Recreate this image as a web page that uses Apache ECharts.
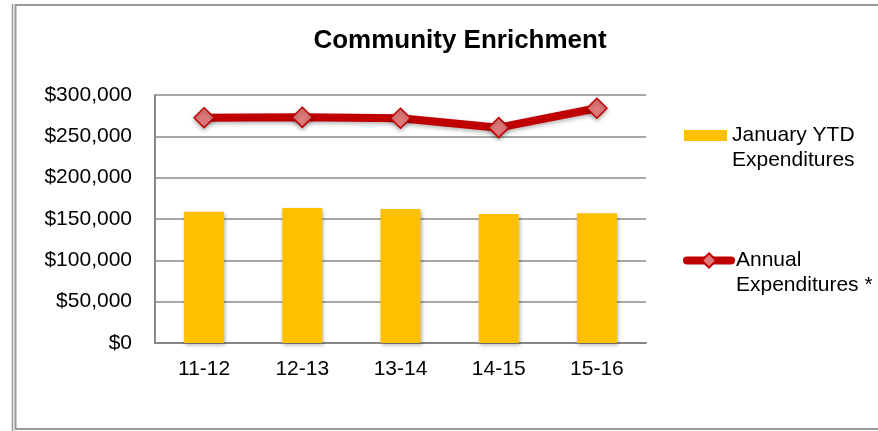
<!DOCTYPE html>
<html>
<head>
<meta charset="utf-8">
<script src="https://cdn.jsdelivr.net/npm/echarts@6/dist/echarts.min.js"></script>
<style>
html,body{margin:0;padding:0;background:#fff;}
#c{width:878px;height:431px;}
</style>
</head>
<body>
<div id="c"></div>
<script>
var categories = ['11-12', '12-13', '13-14', '14-15', '15-16'];
var ytdValues = [158800, 163300, 162100, 156000, 156900];
var annualValues = [272500, 273000, 271800, 260500, 284000];
var yTicks = [0, 50000, 100000, 150000, 200000, 250000, 300000];

var chart = echarts.init(document.getElementById('c'));
var font = 'Liberation Sans, Arial, sans-serif';
chart.setOption({
  animation: false,
  backgroundColor: '#fff',
  textStyle: {fontFamily: font},
  title: {
    text: 'Community Enrichment',
    left: 455, top: 23, textAlign: 'center',
    textStyle: {fontFamily: font, fontWeight: 'bold', fontSize: 26, color: '#000'}
  },
  graphic: [
    {type: 'line', shape: {x1: 12.5, y1: 4, x2: 12.5, y2: 431}, style: {stroke: '#999', lineWidth: 1.5}},
    {type: 'rect', shape: {x: 15.5, y: 5, width: 880, height: 424}, style: {fill: null, stroke: '#999', lineWidth: 2}}
  ],
  legend: [
    {
      data: [{name: 'January YTD Expenditures', icon: 'rect'}],
      left: 679, top: 93,
      itemWidth: 43, itemHeight: 11,
      formatter: function () { return ' \nJanuary YTD\nExpenditures'; },
      textStyle: {fontFamily: font, fontSize: 21, color: '#000', lineHeight: 25}
    },
    {
      data: [{name: 'Annual Expenditures *'}],
      left: 678, top: 218,
      itemWidth: 44, itemHeight: 18,
      lineStyle: {width: 8, cap: 'round'},
      formatter: function () { return ' \nAnnual\nExpenditures *'; },
      textStyle: {fontFamily: font, fontSize: 21, color: '#000', lineHeight: 25}
    }
  ],
  grid: {left: 155, right: 232, top: 95, bottom: 88, containLabel: false},
  xAxis: {
    type: 'category',
    data: categories,
    axisLine: {lineStyle: {color: '#878787', width: 2}},
    axisTick: {show: false},
    axisLabel: {fontFamily: font, fontSize: 21, color: '#000', margin: 16}
  },
  yAxis: {
    type: 'value',
    min: 0, max: 300000, interval: 50000,
    axisLine: {show: true, lineStyle: {color: '#878787', width: 2}},
    axisTick: {show: false},
    splitLine: {lineStyle: {color: '#8a8a8a', width: 1.5}},
    axisLabel: {
      fontFamily: font, fontSize: 21, color: '#000', margin: 23,
      formatter: function (v) { return '$' + v.toLocaleString('en-US'); }
    }
  },
  series: [
    {
      name: 'January YTD Expenditures',
      type: 'bar',
      data: ytdValues,
      barWidth: 40,
      itemStyle: {color: '#FFC000', shadowColor: 'rgba(0,0,0,0.3)', shadowBlur: 4, shadowOffsetX: 1, shadowOffsetY: 2}
    },
    {
      name: 'Annual Expenditures *',
      type: 'line',
      data: annualValues,
      symbol: 'diamond',
      symbolSize: 20,
      lineStyle: {color: '#C00000', width: 8, shadowColor: 'rgba(0,0,0,0.3)', shadowBlur: 4, shadowOffsetY: 2},
      itemStyle: {color: '#E07A7A', borderColor: '#C00000', borderWidth: 1.5, shadowColor: 'rgba(0,0,0,0.3)', shadowBlur: 4, shadowOffsetY: 2}
    }
  ]
});
</script>
</body>
</html>
